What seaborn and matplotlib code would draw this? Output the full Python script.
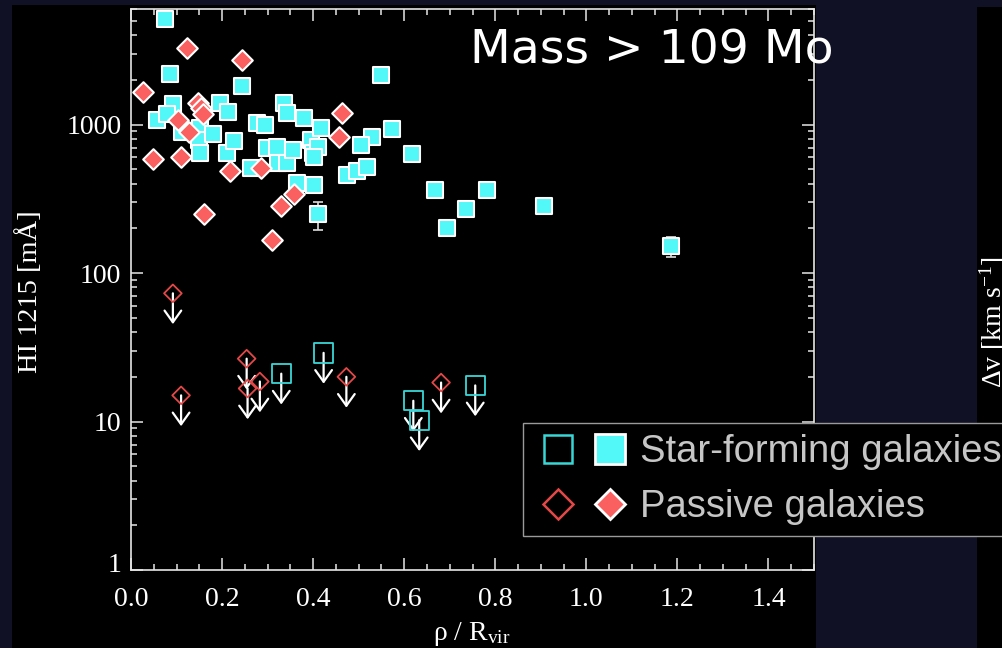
import numpy as np
import matplotlib
matplotlib.use("Agg")
import matplotlib.pyplot as plt
from matplotlib.lines import Line2D
from matplotlib.patches import Rectangle
from matplotlib.legend_handler import HandlerTuple
from matplotlib.transforms import ScaledTranslation
from matplotlib.ticker import FixedLocator, FixedFormatter, MultipleLocator, LogLocator, NullFormatter
import seaborn as sns

# --- detections: star-forming galaxies (impact parameter / Rvir, HI 1215 EW in mA)
sf_rho = [0.075, 0.085, 0.243, 0.057, 0.092, 0.079, 0.112, 0.151, 0.149, 0.180,
          0.151, 0.195, 0.212, 0.210, 0.226, 0.263, 0.276, 0.294, 0.298, 0.320,
          0.322, 0.342, 0.337, 0.342, 0.355, 0.381, 0.396, 0.399, 0.410, 0.418,
          0.403, 0.364, 0.403, 0.410, 0.475, 0.550, 0.574, 0.530, 0.506, 0.618,
          0.497, 0.519, 0.668, 0.736, 0.694, 0.782, 0.907, 1.187]
sf_ew = [5100, 2200, 1830, 1080, 1365, 1170, 897, 955, 793, 857,
         647, 1406, 1223, 647, 769, 513, 1031, 1000, 700, 711,
         555, 555, 1406, 1205, 679, 1115, 793, 647, 711, 955,
         600, 406, 394, 248, 460, 2140, 940, 830, 733, 638,
         490, 521, 360, 272, 200, 360, 281, 153]

# --- detections: passive galaxies
pa_rho = [0.026, 0.123, 0.243, 0.103, 0.147, 0.153, 0.158, 0.127, 0.048, 0.110,
          0.217, 0.285, 0.160, 0.309, 0.329, 0.359, 0.464, 0.456]
pa_ew = [1667, 3300, 2740, 1080, 1406, 1302, 1186, 884, 590, 600,
         483, 513, 248, 168, 281, 338, 1205, 830]

# --- measurements with error bars (star-forming)
err_rho = [0.410, 1.187]
err_ew = [248, 153]
err_lo = [52, 24]
err_hi = [55, 23]

# --- upper limits (non-detections)
sf_lim_rho = [0.330, 0.423, 0.620, 0.633, 0.756]
sf_lim_ew = [21, 29, 13.8, 10.2, 17.5]
pa_lim_rho = [0.092, 0.110, 0.254, 0.256, 0.283, 0.473, 0.681]
pa_lim_ew = [73, 15, 26.5, 16.7, 18.6, 20, 18.3]

x_ticks = [0.0, 0.2, 0.4, 0.6, 0.8, 1.0, 1.2, 1.4]
x_ticklabels = ["0.0", "0.2", "0.4", "0.6", "0.8", "1.0", "1.2", "1.4"]
y_ticks = [1, 10, 100, 1000]
y_ticklabels = ["1", "10", "100", "1000"]

CYAN = "#52f7f7"
CYAN_EDGE = "#3ad6d6"
RED = "#fa6060"
RED_EDGE = "#e44848"
NAVY = "#111126"
FG = "#e6e6e6"

sns.set_theme(style="ticks")
plt.rcParams["font.family"] = ["Liberation Serif", "DejaVu Serif"]
plt.rcParams["mathtext.fontset"] = "custom"
plt.rcParams["mathtext.rm"] = "Liberation Serif"
plt.rcParams["mathtext.it"] = "Liberation Serif:italic"

W, H = 1003, 648
fig = plt.figure(figsize=(W / 100, H / 100), dpi=100, facecolor=NAVY)

# black slide panels
fig.add_artist(Rectangle((12 / W, 0), (816 - 12) / W, (H - 5) / H,
                         transform=fig.transFigure, facecolor="black",
                         edgecolor="none", zorder=-1))
fig.add_artist(Rectangle((977 / W, 0), 40 / W, (H - 7) / H,
                         transform=fig.transFigure, facecolor="black",
                         edgecolor="none", zorder=-1))

ax = fig.add_axes([131 / W, 1 - 570 / H, (814 - 131) / W, (570 - 9) / H])
ax.set_facecolor("black")

# error bars
ax.errorbar(err_rho, err_ew, yerr=[err_lo, err_hi], fmt="none", ecolor="#dddddd",
            elinewidth=1.2, capsize=3.5, capthick=1.2, zorder=2)

# upper-limit arrows
for xs, ys in ((sf_lim_rho, sf_lim_ew), (pa_lim_rho, pa_lim_ew)):
    for xv, yv in zip(xs, ys):
        ax.annotate("", xy=(xv, yv * 0.62), xytext=(xv, yv),
                    arrowprops=dict(arrowstyle="->,head_length=0.7,head_width=0.5",
                                    color="white", lw=1.6, shrinkA=0, shrinkB=0),
                    zorder=2)

# detections
sns.scatterplot(x=sf_rho, y=sf_ew, marker="s", s=11.5 ** 2, color=CYAN,
                edgecolor="white", linewidth=1.5, ax=ax, zorder=3, legend=False)
sns.scatterplot(x=pa_rho, y=pa_ew, marker="D", s=10.5 ** 2, color=RED,
                edgecolor="white", linewidth=1.5, ax=ax, zorder=4, legend=False)

# non-detections (open symbols)
sns.scatterplot(x=sf_lim_rho, y=sf_lim_ew, marker="s", s=14 ** 2, color=CYAN_EDGE,
                facecolor="none", edgecolor=CYAN_EDGE, linewidth=1.3, ax=ax,
                zorder=4, legend=False)
sns.scatterplot(x=pa_lim_rho, y=pa_lim_ew, marker="D", s=9 ** 2, color=RED_EDGE,
                facecolor="none", edgecolor=RED_EDGE, linewidth=1.3, ax=ax,
                zorder=4, legend=False)

ax.set_yscale("log")
ax.set_xlim(0, 1.5)
ax.set_ylim(1, 6000)
ax.set_xlabel("")
ax.set_ylabel("")

ax.xaxis.set_major_locator(FixedLocator(x_ticks))
ax.xaxis.set_major_formatter(FixedFormatter(x_ticklabels))
ax.xaxis.set_minor_locator(MultipleLocator(0.05))
ax.yaxis.set_major_locator(FixedLocator(y_ticks))
ax.yaxis.set_major_formatter(FixedFormatter(y_ticklabels))
ax.yaxis.set_minor_locator(LogLocator(base=10, subs=np.arange(2, 10)))
ax.yaxis.set_minor_formatter(NullFormatter())

ax.tick_params(which="both", direction="in", top=True, right=True,
               color=FG, width=1.1, labelcolor="white", labelsize=20)
ax.tick_params(which="major", length=8.5)
ax.tick_params(which="minor", length=4.5)
ax.tick_params(axis="x", pad=12)
ax.tick_params(axis="y", pad=7)
for sp in ax.spines.values():
    sp.set_color(FG)
    sp.set_linewidth(1.2)

# axis labels
fig.text(30 / W, 1 - 292 / H, "HI 1215 [mÅ]", rotation=90, ha="center",
         va="center", color="white", fontsize=20.5)
fig.text(472 / W, 1 - 640 / H, r"ρ / R$_{\rm vir}$", ha="center", va="baseline",
         color="white", fontsize=20)

# slide heading
fig.text(470 / W, 1 - 63 / H, "Mass > 109 Mo", ha="left", va="baseline",
         color="white", fontsize=34, family="DejaVu Sans")

# neighbouring panel label
fig.text(993 / W, 1 - 322 / H, r"$\Delta$v [km s$^{-1}$]", rotation=90,
         ha="center", va="center", color="white", fontsize=20)

# legend
h_sf_open = Line2D([], [], ls="none", marker="s", ms=20, mfc="none",
                   mec=CYAN_EDGE, mew=1.8)
h_sf_fill = Line2D([], [], ls="none", marker="s", ms=21, mfc=CYAN,
                   mec="white", mew=2)
h_pa_open = Line2D([], [], ls="none", marker="D", ms=15, mfc="none",
                   mec=RED_EDGE, mew=1.8)
h_pa_fill = Line2D([], [], ls="none", marker="D", ms=15, mfc=RED,
                   mec="white", mew=2)
leg = fig.legend(handles=[(h_sf_open, h_sf_fill), (h_pa_open, h_pa_fill)],
                 labels=["Star-forming galaxies", "Passive galaxies"],
                 handler_map={tuple: HandlerTuple(ndivide=None, pad=0.1)},
                 loc="upper left", bbox_to_anchor=(523 / W, 1 - 423 / H),
                 borderaxespad=0, frameon=True, fancybox=False,
                 facecolor="black", edgecolor="#9a9a9a", framealpha=1,
                 prop={"family": "Liberation Sans", "size": 27.5},
                 labelcolor="#c6c6c6", handlelength=2.63, handleheight=0.7,
                 handletextpad=0.15, borderpad=0.29, labelspacing=0.5)
leg.get_frame().set_linewidth(1.0)

# lift the lowest y label clear of the x labels
fig.canvas.draw()
low = ax.yaxis.get_major_ticks()[0].label1
low.set_transform(low.get_transform() + ScaledTranslation(0, 8 / 100, fig.dpi_scale_trans))

fig.savefig("out.png", dpi=100, facecolor=NAVY)
